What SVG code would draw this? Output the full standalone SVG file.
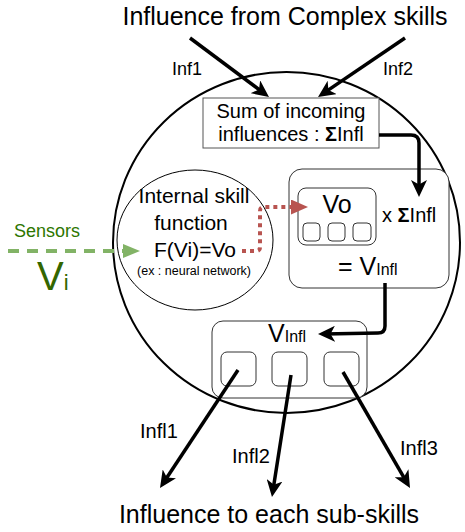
<svg xmlns="http://www.w3.org/2000/svg" width="465" height="532" viewBox="0 0 465 532">
<style>
text{font-family:"Liberation Sans",Arial,sans-serif;fill:#000}
.box{fill:#fff;stroke:#333;stroke-width:1}
.sq{fill:#fff;stroke:#333;stroke-width:1}
.arr{fill:none;stroke:#000;stroke-width:3.5;marker-end:url(#blk)}
.mid{text-anchor:middle}
</style>
<defs>
<marker id="blk" markerUnits="userSpaceOnUse" viewBox="0 0 17 16" markerWidth="17" markerHeight="16" refX="11" refY="8" orient="auto">
<path d="M0,0 L17,8 L0,16 L4.5,8 Z" fill="#000"/>
</marker>
<marker id="grn" markerUnits="userSpaceOnUse" viewBox="0 0 17 14" markerWidth="17" markerHeight="14" refX="5" refY="7" orient="auto">
<path d="M0,0 L17,7 L0,14 Z" fill="#82b366"/>
</marker>
<marker id="red" markerUnits="userSpaceOnUse" viewBox="0 0 17 15" markerWidth="17" markerHeight="15" refX="5" refY="7.5" orient="auto">
<path d="M0,0 L17,7.5 L0,15 Z" fill="#b85450"/>
</marker>
</defs>

<text class="mid" x="285" y="25" font-size="25">Influence from Complex skills</text>
<text class="mid" x="269" y="523" font-size="25">Influence to each sub-skills</text>

<g id="skill">
<ellipse cx="286.5" cy="242.5" rx="173.5" ry="170.5" fill="#fff" stroke="#000" stroke-width="2"/>
</g>

<g id="sum">
<rect x="203" y="98" width="176" height="50" fill="#fff" stroke="#555" stroke-width="1"/>
<text class="mid" x="291" y="118" font-size="20">Sum of incoming</text>
<text class="mid" x="291" y="141" font-size="20">influences : <tspan font-weight="bold">Σ</tspan>Infl</text>
</g>

<g id="internal">
<ellipse cx="195" cy="240" rx="78" ry="70" fill="#fff" stroke="#000" stroke-width="1"/>
<text class="mid" x="194" y="203" font-size="21">Internal skill</text>
<text class="mid" x="191" y="230" font-size="21">function</text>
<text class="mid" x="195" y="257" font-size="21">F(Vi)=Vo</text>
<text class="mid" x="194" y="275" font-size="12.5">(ex : neural network)</text>
</g>

<g id="product">
<rect class="box" x="289" y="169" width="160" height="119" rx="13"/>
<rect class="box" x="298" y="188" width="78" height="57" rx="8"/>
<rect class="sq" x="303" y="223" width="17" height="18" rx="4"/>
<rect class="sq" x="328" y="223" width="17" height="18" rx="4"/>
<rect class="sq" x="353" y="223" width="18" height="18" rx="4"/>
<text class="mid" x="337" y="213" font-size="25">Vo</text>
<text x="382" y="222" font-size="20">x <tspan font-weight="bold">Σ</tspan>Infl</text>
<text x="338" y="275" font-size="25">= V<tspan font-size="16">Infl</tspan></text>
</g>

<g id="vinfl">
<rect class="box" x="212" y="321" width="155" height="77" rx="11"/>
<rect class="sq" x="221" y="352" width="35" height="34" rx="6"/>
<rect class="sq" x="272" y="352" width="35" height="34" rx="6"/>
<rect class="sq" x="324" y="352" width="35" height="34" rx="6"/>
<text x="268" y="342" font-size="25">V<tspan font-size="16">Infl</tspan></text>
</g>

<g id="sensors">
<text x="14" y="237" font-size="18" style="fill:#2d7600">Sensors</text>
<text x="37" y="290" font-size="40" style="fill:#336600">V<tspan font-size="22">i</tspan></text>
</g>

<g id="connectors">
<path class="arr" d="M190,38 L264.2,93.4"/>
<path class="arr" d="M405,38 L323,93.6"/>
<path class="arr" d="M379,135 L411,135 Q419,135 419,143 L419,191"/>
<path class="arr" d="M385,283 L385,326 Q385,333 378,333 L324,334"/>
<path class="arr" d="M238,370 L163.3,483"/>
<path class="arr" d="M291,375 L272.9,491.1"/>
<path class="arr" d="M343,372 L407,482.8"/>
<path d="M8,251 L128,251" fill="none" stroke="#82b366" stroke-width="4" stroke-dasharray="11,8" marker-end="url(#grn)"/>
<path d="M242,251 L256,251 Q260,251 260,247 L260,211 Q260,207 264,207 L296,207" fill="none" stroke="#b85450" stroke-width="4" stroke-dasharray="4,4" marker-end="url(#red)"/>
<text x="172" y="75" font-size="18">Inf1</text>
<text x="383" y="75" font-size="18">Inf2</text>
<text x="140" y="438" font-size="20">Infl1</text>
<text x="232" y="463" font-size="20">Infl2</text>
<text x="400" y="455" font-size="20">Infl3</text>
</g>
</svg>
